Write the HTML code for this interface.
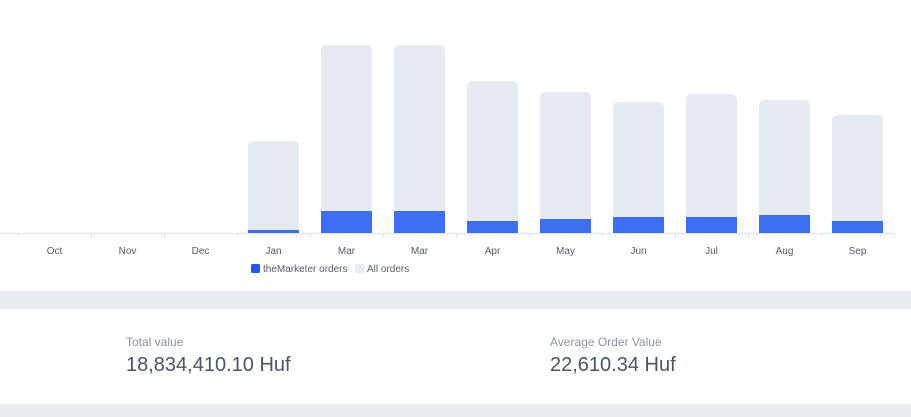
<!DOCTYPE html>
<html><head><meta charset="utf-8"><style>
body{margin:0;width:911px;height:417px;overflow:hidden;background:#fff;font-family:"Liberation Sans",sans-serif;position:relative}
.band{position:absolute;left:0;width:911px;background:#e9edf2}
.lbl{position:absolute;font-size:12px;color:#8a94a3}
.val{position:absolute;font-size:20px;color:#4b5563}
</style></head><body>
<svg width="911" height="290" style="position:absolute;left:0;top:0" id="chart"></svg>
<div class="band" style="top:291px;height:18px"></div>
<div class="lbl" style="left:126px;top:335px">Total value</div>
<div class="val" style="left:126px;top:354px">18,834,410.10 Huf</div>
<div class="lbl" style="left:550px;top:335px">Average Order Value</div>
<div class="val" style="left:550px;top:354px">22,610.34 Huf</div>
<div class="band" style="top:404px;height:13px"></div>
<script>
const categories=["Oct","Nov","Dec","Jan","Mar","Mar","Apr","May","Jun","Jul","Aug","Sep"];
const allOrders=[0,0,0,92,188,188,152,141,131,139,133,118];
const marketerOrders=[0,0,0,3,22,22,12,14,16,16,18,12];
const NS="http://www.w3.org/2000/svg";
const svg=document.getElementById('chart');
const x0=18,bw=73,base=233,yMax=200,plotH=200;
const xS=i=>x0+i*bw;
const yS=v=>base-v/yMax*plotH;
function mk(t,a){const e=document.createElementNS(NS,t);for(const k in a)e.setAttribute(k,a[k]);svg.appendChild(e);return e;}
const ax=mk('line',{x1:0,x2:894,y1:base+0.5,y2:base+0.5,stroke:'#e3e7ec','stroke-width':1.5});


for(let i=0;i<=categories.length;i++){
  const t=mk('line',{x1:xS(i)+.5,x2:xS(i)+.5,y1:base,y2:base+5,stroke:'#e3e7ec'});
  
  
}
categories.forEach((c,i)=>{
  const bx=xS(i)+11,w=51;
  if(allOrders[i]>0){
    const top=yS(allOrders[i]),h=base-top,r=6;
    const p=mk('path',{d:`M${bx},${base}V${top+r}Q${bx},${top} ${bx+r},${top}H${bx+w-r}Q${bx+w},${top} ${bx+w},${top+r}V${base}Z`,fill:'#e6ebf1'});
    
    
  }
  if(marketerOrders[i]>0){
    const top=yS(marketerOrders[i]);
    const b=mk('rect',{x:bx,y:top,width:w,height:base-top,fill:'#3d6ff5'});
    
    
  }
  const tx=mk('text',{x:xS(i)+bw/2,y:254,'text-anchor':'middle','font-size':10,fill:'#555d68'});
  tx.textContent=c;
  
  
});
const l1=mk('rect',{x:251,y:264,width:9,height:9,rx:1.5,fill:'#1e5bf5'});


const t1=mk('text',{x:263,y:272,'font-size':10,fill:'#555d68'});t1.textContent='theMarketer orders';


const l2=mk('rect',{x:355,y:264,width:9,height:9,rx:1.5,fill:'#e6ebf1'});


const t2=mk('text',{x:367,y:272,'font-size':10,fill:'#555d68'});t2.textContent='All orders';


</script>
</body></html>
